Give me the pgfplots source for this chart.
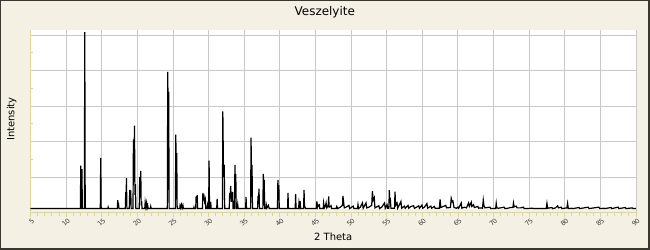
\documentclass[border=0pt]{standalone}
\usepackage{pgfplots}
\pgfplotsset{compat=1.18}
\usepackage{fontspec}
\setmainfont{DejaVu Sans}
\definecolor{bgc}{RGB}{244,241,228}
\definecolor{brd}{RGB}{56,56,48}
\definecolor{axcol}{RGB}{222,214,148}
\definecolor{gridc}{RGB}{200,200,200}
\definecolor{labc}{RGB}{60,60,60}
\pgfplotstableread{
x y
5 0.11
12.00 0.11
12.06 1.32
12.12 0.11
12.16 0.11
12.22 1.22
12.28 0.11
12.56 0.11
12.62 5.08
12.68 0.11
14.80 0.11
14.86 1.54
14.92 0.11
15.85 0.11
15.90 0.15
15.95 0.11
17.19 0.11
17.25 0.35
17.31 0.20
17.35 0.27
17.41 0.11
18.31 0.11
18.37 0.57
18.42 0.30
18.47 0.97
18.53 0.11
18.87 0.11
18.93 0.64
19.00 0.40
19.07 0.62
19.13 0.11
19.39 0.11
19.45 2.05
19.52 1.20
19.60 2.45
19.66 0.50
19.73 0.80
19.79 0.11
20.27 0.11
20.33 1.00
20.40 0.60
20.48 1.17
20.54 0.20
20.60 0.32
20.66 0.11
21.04 0.11
21.10 0.29
21.20 0.15
21.30 0.27
21.38 0.13
21.46 0.19
21.52 0.11
21.82 0.11
21.88 0.17
21.94 0.11
24.21 0.11
24.27 3.96
24.33 2.50
24.40 3.40
24.46 0.11
25.34 0.11
25.40 2.19
25.46 1.00
25.53 1.67
25.59 0.11
25.95 0.11
26.00 0.20
26.10 0.13
26.20 0.22
26.30 0.13
26.40 0.20
26.46 0.11
27.90 0.11
27.95 0.15
28.00 0.11
28.19 0.11
28.25 0.45
28.32 0.30
28.40 0.49
28.46 0.11
29.14 0.11
29.20 0.55
29.28 0.40
29.36 0.45
29.45 0.30
29.55 0.37
29.61 0.11
29.80 0.11
29.85 0.20
29.92 0.11
30.01 0.11
30.07 1.46
30.13 0.11
30.25 0.11
30.30 0.30
30.36 0.11
31.14 0.11
31.20 0.38
31.26 0.11
31.94 0.11
32.00 2.85
32.10 1.00
32.20 1.34
32.26 0.11
32.90 0.11
32.96 0.55
33.03 0.40
33.10 0.75
33.20 0.30
33.38 0.58
33.44 0.11
33.64 0.11
33.70 1.34
33.76 0.80
33.82 1.09
33.88 0.11
34.03 0.11
34.09 0.22
34.15 0.11
35.20 0.11
35.26 0.44
35.32 0.11
35.90 0.11
35.96 2.11
36.03 1.00
36.10 1.34
36.16 0.11
36.88 0.11
36.94 0.47
37.00 0.30
37.08 0.67
37.14 0.11
37.62 0.11
37.68 1.09
37.75 0.70
37.81 0.92
37.87 0.11
38.05 0.11
38.10 0.22
38.20 0.13
38.40 0.20
38.50 0.11
39.67 0.11
39.73 0.92
39.80 0.60
39.86 0.77
39.92 0.11
41.09 0.11
41.15 0.55
41.21 0.11
42.16 0.11
42.22 0.52
42.28 0.11
42.64 0.11
42.70 0.29
42.78 0.20
42.85 0.32
42.91 0.11
43.34 0.11
43.40 0.64
43.46 0.20
43.60 0.11
45.14 0.11
45.20 0.31
45.30 0.15
45.40 0.20
45.55 0.22
45.61 0.11
46.09 0.11
46.15 0.27
46.25 0.13
46.40 0.18
46.50 0.27
46.60 0.13
46.80 0.20
46.86 0.45
46.92 0.15
47.20 0.19
47.26 0.11
47.90 0.11
48.00 0.17
48.10 0.11
48.50 0.15
48.80 0.20
48.86 0.47
48.95 0.30
49.05 0.13
49.30 0.15
49.70 0.20
49.80 0.11
50.30 0.18
50.40 0.11
50.90 0.11
50.97 0.22
51.05 0.11
51.30 0.15
51.60 0.27
51.70 0.12
52.10 0.27
52.20 0.13
52.50 0.15
52.90 0.20
53.00 0.60
53.10 0.35
53.26 0.42
53.35 0.13
53.90 0.19
54.00 0.11
54.30 0.15
54.70 0.27
54.80 0.12
55.05 0.22
55.15 0.12
55.31 0.12
55.37 0.63
55.44 0.30
55.50 0.42
55.60 0.12
56.11 0.12
56.17 0.59
56.25 0.20
56.45 0.27
56.55 0.12
57.00 0.31
57.10 0.12
57.50 0.18
57.60 0.12
58.00 0.20
58.10 0.12
58.40 0.17
58.78 0.19
58.90 0.12
59.20 0.15
59.50 0.19
59.60 0.12
59.95 0.21
60.05 0.12
60.30 0.15
60.65 0.25
60.75 0.12
61.20 0.18
61.30 0.12
61.70 0.17
61.80 0.12
62.40 0.12
62.50 0.37
62.60 0.14
63.30 0.20
63.40 0.13
63.95 0.14
64.06 0.40
64.20 0.30
64.30 0.32
64.45 0.14
64.80 0.12
65.00 0.15
65.10 0.12
65.47 0.27
65.55 0.12
65.90 0.15
66.20 0.13
66.50 0.27
66.60 0.17
66.87 0.29
66.95 0.17
67.20 0.22
67.30 0.14
67.80 0.17
67.90 0.12
68.10 0.13
68.45 0.12
68.56 0.35
68.65 0.20
68.80 0.13
69.50 0.15
69.60 0.11
70.30 0.11
70.38 0.26
70.46 0.13
70.70 0.12
71.50 0.15
71.60 0.11
72.00 0.12
72.40 0.14
72.72 0.14
72.80 0.27
72.90 0.16
73.20 0.18
73.30 0.13
73.80 0.13
74.20 0.15
74.30 0.11
75.50 0.12
75.60 0.11
77.40 0.11
77.50 0.26
77.60 0.12
78.20 0.14
78.30 0.11
78.70 0.13
79.00 0.19
79.10 0.13
79.50 0.15
79.60 0.11
80.30 0.13
80.40 0.26
80.50 0.11
81.00 0.12
81.10 0.11
82.00 0.14
82.10 0.11
83.30 0.15
83.40 0.11
84.80 0.15
84.90 0.11
85.50 0.12
85.60 0.11
86.50 0.14
86.60 0.11
87.50 0.15
87.60 0.11
88.50 0.14
88.60 0.11
89.50 0.13
89.60 0.11
90 0.11
}\xrd
\begin{document}
\begin{tikzpicture}
\fill[bgc] (-30.5bp,-37.5bp) rectangle (619.5bp,212.5bp);
\begin{axis}[
  at={(0,0)}, anchor=south west,
  scale only axis, width=605.5bp, height=182.5bp,
  xmin=5, xmax=90, ymin=0, ymax=5.14,
  xtick={5,10,...,90}, minor x tick num=4,
  ytick={1,2,3,4,5}, minor y tick num=1, yticklabels={},
  grid=major,
  major grid style={draw=gridc, line width=0.9bp},
  axis x line*=bottom, axis y line*=left,
  axis line style={draw=axcol, line width=1bp},
  xtick align=outside, ytick align=inside,
  tick style={draw=axcol, line width=0.8bp},
  major tick length=4bp, minor tick length=3bp,
  axis background/.style={fill=white},
  /pgf/number format/assume math mode=true,
  xticklabel style={rotate=45, anchor=east, font=\fontsize{6.5}{7}\selectfont, text=labc, inner sep=0.5pt, yshift=-4bp, xshift=0.5bp},
  xlabel={2 Theta},
  xlabel style={at={(axis description cs:0.5,-0.134)}, anchor=center, font=\fontsize{10}{12}\selectfont, inner sep=0pt},
  ylabel={Intensity},
  ylabel style={at={(axis description cs:-0.031,0.512)}, anchor=center, font=\fontsize{10}{12}\selectfont, inner sep=0pt},
]
\fill[bgc] ([xshift=0.6bp,yshift=0.6bp]axis cs:5,0) rectangle (axis cs:90,0.095);
\addplot[black, line width=1.2bp, sharp plot, mark=none] table[x=x,y=y] {\xrd};
\end{axis}
\node[anchor=center, inner sep=0pt, font=\fontsize{12}{14}\selectfont] at (294.3bp,200.6bp) {Veszelyite};
\draw[brd, line width=1bp] (-30bp,-37bp) rectangle (619bp,212bp);
\draw[brd, line width=2bp] (-30.5bp,-36.5bp) -- (618.5bp,-36.5bp) -- (618.5bp,212.5bp);
\pgfresetboundingbox
\useasboundingbox (-30.5bp,-37.5bp) rectangle (619.5bp,212.5bp);
\end{tikzpicture}
\end{document}
